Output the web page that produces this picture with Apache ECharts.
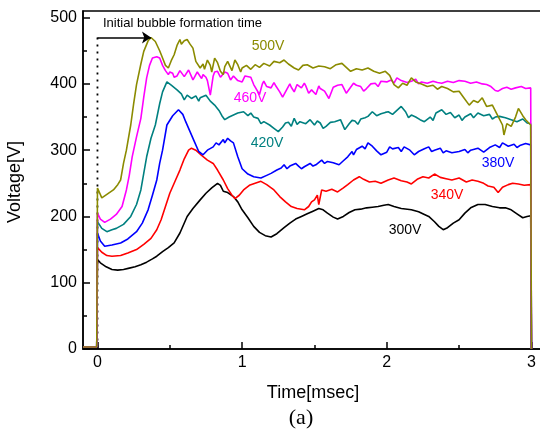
<!DOCTYPE html>
<html>
<head>
<meta charset="utf-8">
<script src="https://cdn.jsdelivr.net/npm/echarts@6/dist/echarts.min.js"></script>
<style>
  html, body { margin: 0; padding: 0; background: #fff; }
  #chart { width: 540px; height: 437px; }
</style>
</head>
<body>
<div id="chart"></div>
<script>
// [time msec, voltage V]
var v300 = [[-0.1,2],[-0.005,2],[0,135],[0.02,130],[0.06,124],[0.1,120],[0.14,119],[0.18,120],[0.22,122],[0.26,124],[0.3,127],[0.34,131],[0.38,136],[0.41,140],[0.45,147],[0.49,153],[0.53,160],[0.57,175],[0.62,200],[0.66,212],[0.71,225],[0.75,235],[0.79,243],[0.83,250],[0.85,247],[0.87,238],[0.9,236],[0.94,230],[0.97,222],[1.0,210],[1.04,198],[1.08,185],[1.12,176],[1.16,171],[1.2,169],[1.24,174],[1.29,183],[1.33,190],[1.37,196],[1.41,200],[1.45,204],[1.49,208],[1.53,212],[1.56,210],[1.59,205],[1.63,199],[1.66,196],[1.7,200],[1.74,206],[1.78,210],[1.82,211],[1.86,213],[1.9,214],[1.94,215],[1.98,217],[2.01,218],[2.05,215],[2.1,212],[2.17,210],[2.22,207],[2.26,203],[2.29,200],[2.33,192],[2.36,185],[2.39,180],[2.42,183],[2.46,190],[2.5,195],[2.54,205],[2.58,213],[2.63,218],[2.68,218],[2.73,215],[2.78,213],[2.82,213],[2.86,210],[2.9,204],[2.94,198],[2.97,200],[2.995,201],[3.0,0]];
var v340 = [[-0.1,3],[-0.005,3],[0,153],[0.03,146],[0.065,141],[0.1,140],[0.16,141],[0.21,145],[0.27,150],[0.32,158],[0.37,167],[0.41,180],[0.44,195],[0.47,215],[0.5,235],[0.54,255],[0.57,270],[0.6,287],[0.63,300],[0.65,303],[0.68,300],[0.72,292],[0.76,285],[0.8,280],[0.83,270],[0.87,255],[0.9,242],[0.93,232],[0.95,227],[0.98,232],[1.01,240],[1.05,247],[1.09,250],[1.13,253],[1.17,248],[1.22,240],[1.26,230],[1.3,222],[1.34,215],[1.38,212],[1.43,210],[1.46,215],[1.48,222],[1.5,225],[1.52,232],[1.53,218],[1.55,240],[1.58,238],[1.62,241],[1.66,237],[1.7,243],[1.73,248],[1.77,255],[1.81,260],[1.84,256],[1.88,252],[1.92,253],[1.96,250],[2.01,255],[2.05,258],[2.1,254],[2.14,252],[2.17,249],[2.21,256],[2.25,260],[2.29,258],[2.33,264],[2.37,259],[2.41,257],[2.45,255],[2.5,258],[2.55,252],[2.59,255],[2.63,253],[2.67,250],[2.7,246],[2.74,244],[2.77,236],[2.8,244],[2.84,248],[2.87,250],[2.91,249],[2.95,247],[2.995,248],[3.0,0]];
var v380 = [[-0.1,3],[-0.005,3],[0,175],[0.02,163],[0.05,155],[0.1,157],[0.16,160],[0.21,166],[0.27,177],[0.31,190],[0.35,210],[0.38,232],[0.41,255],[0.43,280],[0.45,300],[0.48,338],[0.52,352],[0.56,361],[0.59,354],[0.61,343],[0.64,328],[0.67,313],[0.7,298],[0.73,293],[0.76,300],[0.8,305],[0.82,311],[0.84,308],[0.87,316],[0.88,311],[0.9,318],[0.92,314],[0.94,311],[0.97,290],[1.0,272],[1.04,264],[1.08,260],[1.13,258],[1.17,262],[1.2,265],[1.24,270],[1.27,273],[1.29,278],[1.31,272],[1.33,276],[1.37,280],[1.39,276],[1.41,272],[1.43,275],[1.47,280],[1.49,276],[1.51,278],[1.55,285],[1.57,280],[1.59,283],[1.63,281],[1.67,278],[1.7,284],[1.73,290],[1.76,298],[1.77,293],[1.79,301],[1.83,306],[1.85,302],[1.87,311],[1.9,306],[1.93,299],[1.96,293],[2.0,297],[2.02,305],[2.04,302],[2.08,304],[2.1,298],[2.12,305],[2.16,300],[2.19,293],[2.22,298],[2.26,302],[2.29,305],[2.31,298],[2.33,300],[2.37,303],[2.39,296],[2.41,299],[2.45,296],[2.5,298],[2.54,301],[2.56,296],[2.58,300],[2.63,303],[2.67,297],[2.71,304],[2.75,308],[2.78,304],[2.8,311],[2.84,306],[2.88,309],[2.9,304],[2.92,307],[2.96,310],[2.995,308],[3.0,0]];
var v420 = [[-0.1,3],[-0.005,3],[0,192],[0.03,182],[0.065,177],[0.1,180],[0.13,182],[0.18,188],[0.23,200],[0.27,218],[0.3,240],[0.32,265],[0.34,290],[0.37,318],[0.4,338],[0.43,370],[0.45,388],[0.48,403],[0.51,398],[0.55,391],[0.58,385],[0.6,376],[0.62,383],[0.65,378],[0.68,382],[0.7,374],[0.71,379],[0.75,383],[0.78,374],[0.81,368],[0.84,360],[0.86,352],[0.88,346],[0.91,350],[0.94,353],[0.97,356],[1.01,358],[1.04,352],[1.06,356],[1.08,350],[1.11,348],[1.13,340],[1.15,343],[1.19,338],[1.22,333],[1.25,328],[1.28,335],[1.3,341],[1.32,342],[1.34,336],[1.36,348],[1.38,339],[1.4,343],[1.44,340],[1.47,346],[1.5,338],[1.52,344],[1.54,341],[1.56,333],[1.58,336],[1.61,342],[1.64,343],[1.68,346],[1.71,331],[1.74,340],[1.76,345],[1.78,344],[1.8,339],[1.82,347],[1.85,349],[1.87,351],[1.9,358],[1.93,352],[1.96,355],[1.99,357],[2.01,358],[2.04,354],[2.07,360],[2.1,366],[2.13,358],[2.15,349],[2.17,353],[2.2,350],[2.23,346],[2.26,343],[2.3,350],[2.32,345],[2.34,356],[2.38,361],[2.41,354],[2.44,357],[2.47,349],[2.5,353],[2.52,345],[2.54,350],[2.58,355],[2.6,349],[2.63,356],[2.67,352],[2.71,354],[2.73,347],[2.75,350],[2.78,351],[2.82,349],[2.86,346],[2.9,343],[2.94,347],[2.97,341],[2.995,340],[3.0,0]];
var v460 = [[-0.1,3],[-0.005,3],[0,205],[0.02,196],[0.05,191],[0.09,196],[0.13,203],[0.17,215],[0.2,240],[0.22,262],[0.24,290],[0.27,320],[0.3,348],[0.32,380],[0.34,409],[0.36,428],[0.38,439],[0.41,441],[0.43,439],[0.45,428],[0.47,420],[0.49,414],[0.5,418],[0.52,416],[0.53,410],[0.55,412],[0.57,420],[0.58,418],[0.6,411],[0.61,414],[0.63,421],[0.64,419],[0.66,406],[0.67,410],[0.69,418],[0.7,416],[0.72,408],[0.73,414],[0.75,410],[0.76,405],[0.78,383],[0.8,412],[0.81,418],[0.83,419],[0.85,410],[0.86,408],[0.88,418],[0.9,416],[0.92,406],[0.94,412],[0.97,405],[1.0,403],[1.02,412],[1.03,409],[1.06,410],[1.08,399],[1.09,401],[1.12,384],[1.14,400],[1.15,404],[1.17,396],[1.2,394],[1.22,402],[1.23,398],[1.26,388],[1.28,380],[1.31,392],[1.33,400],[1.34,395],[1.36,388],[1.38,399],[1.41,394],[1.43,401],[1.44,397],[1.46,386],[1.48,391],[1.51,384],[1.53,397],[1.54,393],[1.57,389],[1.6,378],[1.63,395],[1.66,398],[1.69,399],[1.72,386],[1.75,395],[1.77,401],[1.79,398],[1.82,396],[1.84,389],[1.86,393],[1.89,400],[1.92,401],[1.94,396],[1.96,404],[2.0,403],[2.03,406],[2.05,401],[2.07,409],[2.1,405],[2.14,402],[2.17,404],[2.2,407],[2.22,400],[2.24,403],[2.28,401],[2.32,404],[2.35,402],[2.38,401],[2.42,404],[2.46,402],[2.5,405],[2.54,404],[2.58,401],[2.62,403],[2.66,400],[2.69,399],[2.72,396],[2.75,390],[2.77,389],[2.8,393],[2.83,395],[2.86,392],[2.89,394],[2.93,396],[2.96,393],[2.995,394],[3.0,0]];
var v500 = [[-0.1,3],[-0.005,3],[0,243],[0.03,228],[0.07,234],[0.11,240],[0.14,248],[0.16,255],[0.18,280],[0.2,300],[0.23,338],[0.25,370],[0.27,399],[0.3,430],[0.32,449],[0.35,465],[0.37,470],[0.4,464],[0.43,450],[0.45,439],[0.47,428],[0.49,424],[0.51,435],[0.53,444],[0.55,458],[0.57,467],[0.58,460],[0.6,465],[0.62,467],[0.64,460],[0.66,454],[0.68,434],[0.71,424],[0.73,430],[0.74,422],[0.76,436],[0.78,428],[0.79,418],[0.81,439],[0.83,432],[0.85,419],[0.87,414],[0.88,426],[0.9,434],[0.93,420],[0.95,436],[0.97,429],[0.99,418],[1.0,424],[1.03,428],[1.06,422],[1.09,429],[1.12,425],[1.15,431],[1.19,427],[1.22,434],[1.26,432],[1.29,436],[1.32,430],[1.36,424],[1.39,421],[1.42,428],[1.45,429],[1.49,424],[1.53,427],[1.57,426],[1.61,423],[1.65,429],[1.69,431],[1.72,425],[1.75,419],[1.79,423],[1.83,421],[1.87,424],[1.91,419],[1.95,416],[1.99,419],[2.02,413],[2.05,399],[2.08,394],[2.11,401],[2.14,398],[2.17,409],[2.2,403],[2.24,400],[2.28,396],[2.32,398],[2.35,392],[2.38,396],[2.42,393],[2.46,388],[2.5,389],[2.53,380],[2.57,368],[2.6,375],[2.63,372],[2.66,379],[2.69,366],[2.73,368],[2.76,355],[2.8,338],[2.81,323],[2.83,340],[2.86,336],[2.89,350],[2.91,363],[2.94,352],[2.96,346],[2.995,338],[3.0,0]];

// annotation: dotted marker at t = 0, arrow to first peak
var markerLine = [[0, 470], [0, 0]];
var arrowFrom = [0, 470];
var arrowTo = [0.37, 470];

var xMajor = [0, 1, 2, 3];
var xMinor = [0.5, 1.5, 2.5];
var yMajor = [0, 100, 200, 300, 400, 500];
var yMinor = [50, 150, 250, 350, 450];

var FONT = 'Liberation Sans, Arial, sans-serif';

var myChart = echarts.init(document.getElementById('chart'));

function line(name, data, color) {
  return {
    name: name,
    type: 'line',
    data: data,
    showSymbol: false,
    symbol: 'none',
    silent: true,
    animation: false,
    lineStyle: { color: color, width: 1.6 },
    z: 3
  };
}

var series = [
  {
    name: 'marker', type: 'line', data: markerLine, symbol: 'none', silent: true,
    lineStyle: { color: '#000', width: 1.8, type: [2, 5] }, z: 2
  },
  line('300V', v300, '#000000'),
  line('340V', v340, '#ff0000'),
  line('380V', v380, '#0000ff'),
  line('420V', v420, '#008080'),
  line('460V', v460, '#ff00ff'),
  line('500V', v500, '#8b8b00')
];

series[6].markLine = {
  silent: true,
  animation: false,
  symbol: ['none', 'arrow'],
  symbolSize: 9,
  label: { show: false },
  lineStyle: { color: '#000', type: 'solid', width: 1.5 },
  data: [[{ coord: arrowFrom }, { coord: arrowTo }]]
};

function lbl(text, x, y, color) {
  return {
    type: 'text', x: x, y: y, z: 10,
    style: { text: text, fill: color, font: '14px ' + FONT, align: 'center', verticalAlign: 'middle' }
  };
}

var option = {
  animation: false,
  textStyle: { fontFamily: FONT },
  grid: {
    left: 83, top: 11, right: -3, bottom: 88,
    show: true, borderColor: '#000', borderWidth: 1.5,
    outerBoundsMode: 'none'
  },
  xAxis: [{
    type: 'value', min: -0.1, max: 3.08,
    axisLine: { show: true, onZero: false, lineStyle: { color: '#000', width: 1.5 } },
    axisTick: { show: true, inside: true, length: 7, customValues: xMajor, lineStyle: { color: '#000', width: 1.5 } },
    axisLabel: { customValues: xMajor, color: '#000', fontSize: 16, margin: 6, fontFamily: FONT },
    splitLine: { show: false }
  }, {
    type: 'value', min: -0.1, max: 3.08, position: 'bottom',
    axisLine: { show: false, onZero: false },
    axisTick: { show: true, inside: true, length: 4, customValues: xMinor, lineStyle: { color: '#000', width: 1.5 } },
    axisLabel: { show: false },
    splitLine: { show: false }
  }],
  yAxis: [{
    type: 'value', min: 0, max: 510,
    axisLine: { show: true, onZero: false, lineStyle: { color: '#000', width: 1.5 } },
    axisTick: { show: true, inside: true, length: 7, customValues: yMajor, lineStyle: { color: '#000', width: 1.5 } },
    axisLabel: { customValues: yMajor, color: '#000', fontSize: 16, margin: 6, fontFamily: FONT },
    splitLine: { show: false }
  }, {
    type: 'value', min: 0, max: 510, position: 'left',
    axisLine: { show: false, onZero: false },
    axisTick: { show: true, inside: true, length: 4, customValues: yMinor, lineStyle: { color: '#000', width: 1.5 } },
    axisLabel: { show: false },
    splitLine: { show: false }
  }],
  series: series,
  graphic: [
    {
      type: 'text', x: 103, y: 23.5, z: 10,
      style: { text: 'Initial bubble formation time', fill: '#000', font: '13px ' + FONT, align: 'left', verticalAlign: 'middle' }
    },
    lbl('500V', 268, 46, '#8b8b00'),
    lbl('460V', 250, 98, '#ff00ff'),
    lbl('420V', 267, 143, '#008080'),
    lbl('380V', 498, 163, '#0000ff'),
    lbl('340V', 447, 195, '#ff0000'),
    lbl('300V', 405, 230, '#000000'),
    {
      type: 'text', x: 313, y: 393, z: 10,
      style: { text: 'Time[msec]', fill: '#000', font: '18px ' + FONT, align: 'center', verticalAlign: 'middle' }
    },
    {
      type: 'text', x: 15, y: 182, rotation: Math.PI / 2, z: 10,
      style: { text: 'Voltage[V]', fill: '#000', font: '18px ' + FONT, align: 'center', verticalAlign: 'middle' }
    },
    {
      type: 'text', x: 301, y: 418, z: 10,
      style: { text: '(a)', fill: '#000', font: '22px "Liberation Serif", "Times New Roman", serif', align: 'center', verticalAlign: 'middle' }
    }
  ]
};

myChart.setOption(option, true);
</script>
</body>
</html>
